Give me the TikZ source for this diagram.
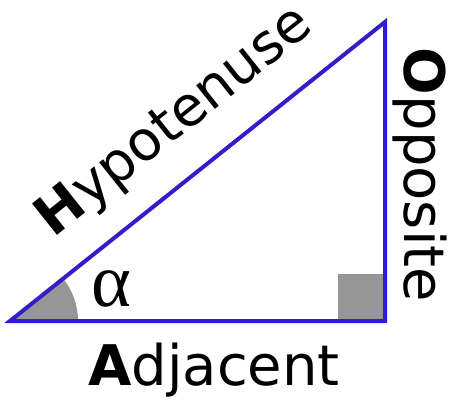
\documentclass[tikz,border=0pt]{standalone}
\usepackage{fontspec}
\setmainfont{DejaVu Sans}
\newfontfamily\alphafont{Liberation Serif}
\definecolor{triblue}{RGB}{50,30,200}
\definecolor{markgrey}{RGB}{150,150,150}
\begin{document}
\begin{tikzpicture}[x=1pt,y=1pt,
  side/.style={draw=triblue,line width=4pt,line join=miter},
  sidelabel/.style={font=\fontsize{56}{60}\selectfont,inner sep=0pt,anchor=base}]
\useasboundingbox[fill=white] (0,0) rectangle (452,399);
\coordinate (A) at (10,78);
\coordinate (B) at (385,78);
\coordinate (C) at (385,377);
\fill[markgrey] (A) -- ++(0:68pt) arc[start angle=0,end angle=38.56,radius=68pt] -- cycle;
\fill[markgrey] (338,78) rectangle (385,125);
\draw[side] (A) -- (B) -- (C) -- cycle;
\node[sidelabel] (adj) at (214,14) {\textbf{A}djacent};
\node[sidelabel,rotate=-90] (opp) at (404,224) {\textbf{O}pposite};
\node[sidelabel,font=\fontsize{55}{60}\selectfont,rotate=38.56] (hyp) at (184,265) {\textbf{H}ypotenuse};
\node[font=\alphafont\fontsize{76}{76}\selectfont,inner sep=0pt] (alpha) at (111,110) {α};
\end{tikzpicture}
\end{document}
